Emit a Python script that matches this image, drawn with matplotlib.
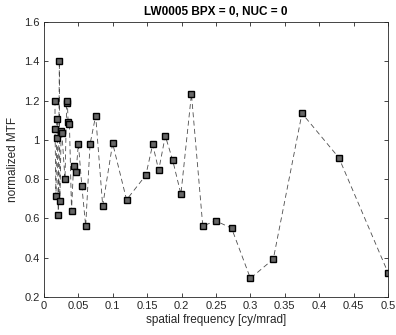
#!/usr/bin/env python
"""Normalized MTF vs spatial frequency, MATLAB-style dashed line with square markers."""

import matplotlib

matplotlib.use("Agg")
import matplotlib.pyplot as plt

# data
freq = [
    0.016, 0.016, 0.0174, 0.0184, 0.019, 0.0208, 0.0223, 0.023, 0.025, 0.026,
    0.0305, 0.033, 0.034, 0.035, 0.037, 0.040, 0.043, 0.0465, 0.050, 0.055,
    0.0606, 0.0669, 0.0751, 0.0853, 0.0998, 0.120, 0.148, 0.158, 0.1667, 0.1763,
    0.187, 0.199, 0.2143, 0.2308, 0.2495, 0.2727, 0.300, 0.3333, 0.375, 0.4286,
    0.500,
]
mtf = [
    1.20, 1.055, 0.714, 1.009, 1.106, 0.617, 1.40, 0.689, 1.045, 1.036,
    0.80, 1.19, 1.20, 1.09, 1.08, 0.639, 0.867, 0.835, 0.98, 0.765,
    0.561, 0.977, 1.123, 0.665, 0.982, 0.695, 0.82, 0.977, 0.845, 1.02,
    0.897, 0.724, 1.233, 0.561, 0.588, 0.55, 0.295, 0.393, 1.135, 0.909,
    0.324,
]
x_ticks = [0, 0.05, 0.1, 0.15, 0.2, 0.25, 0.3, 0.35, 0.4, 0.45, 0.5]
x_labels = ["0", "0.05", "0.1", "0.15", "0.2", "0.25", "0.3", "0.35", "0.4", "0.45", "0.5"]
y_ticks = [0.2, 0.4, 0.6, 0.8, 1.0, 1.2, 1.4, 1.6]
y_labels = ["0.2", "0.4", "0.6", "0.8", "1", "1.2", "1.4", "1.6"]

plt.rcParams["font.family"] = ["Liberation Sans", "DejaVu Sans"]

fig = plt.figure(figsize=(3.96, 3.35), dpi=100)
ax = fig.add_axes([44 / 396, 38 / 335, 344 / 396, 275 / 335])

ax.plot(freq, mtf, linestyle=(0, (6, 4)), color="0.3", linewidth=0.6,
        marker="s", markersize=4, markerfacecolor="0.4",
        markeredgecolor="black", markeredgewidth=1.0)

ax.set_xlim(0, 0.5)
ax.set_ylim(0.2, 1.6)
ax.set_xticks(x_ticks)
ax.set_xticklabels(x_labels)
ax.set_yticks(y_ticks)
ax.set_yticklabels(y_labels)

ax.tick_params(direction="in", top=True, right=True, length=3, width=0.6,
               labelsize=8, colors="0.15", pad=3)
for s in ax.spines.values():
    s.set_linewidth(0.6)
    s.set_color("0.15")

ax.set_xlabel("spatial frequency [cy/mrad]", fontsize=8.5, color="0.15", labelpad=2)
ax.set_ylabel("normalized MTF", fontsize=8.5, color="0.15", labelpad=4)
ax.set_title("LW0005 BPX = 0, NUC = 0", fontsize=8.5, fontweight="bold", pad=5)

fig.savefig("out.png", dpi=100)
plt.close(fig)
